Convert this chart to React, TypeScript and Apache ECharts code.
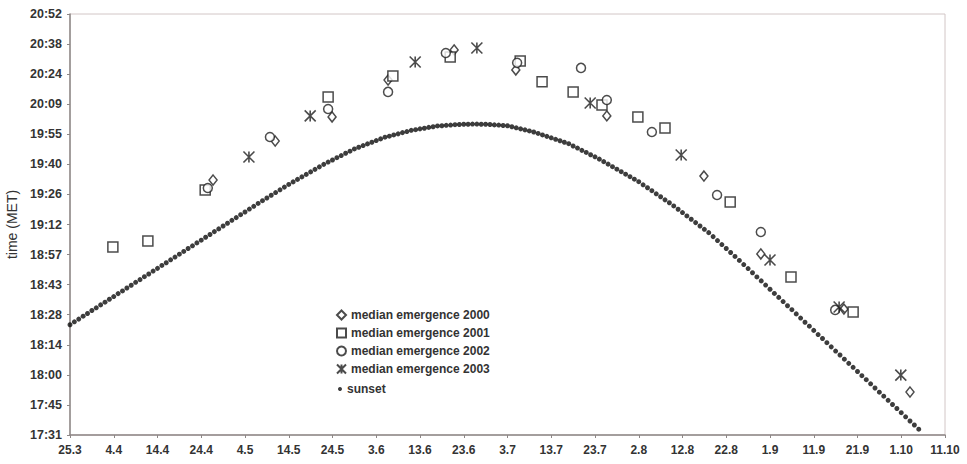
import React, { useEffect, useRef } from "react";
import * as echarts from "echarts";

// x: days after 25 March; y: minutes after midnight (MET)
const xTickLabels = ["25.3", "4.4", "14.4", "24.4", "4.5", "14.5", "24.5", "3.6", "13.6", "23.6", "3.7", "13.7", "23.7", "2.8", "12.8", "22.8", "1.9", "11.9", "21.9", "1.10", "11.10"];
const yTickLabels = ["17:31", "17:45", "18:00", "18:14", "18:28", "18:43", "18:57", "19:12", "19:26", "19:40", "19:55", "20:09", "20:24", "20:38", "20:52"];

const days2000 = [32.7, 46.9, 59.9, 72.7, 87.8, 101.9, 122.7, 144.9, 157.9, 176.9, 192.0];
const mins2000 = [1173.3, 1192.0, 1203.5, 1221.2, 1235.6, 1226.0, 1204.0, 1175.2, 1137.9, 1111.5, 1071.8];

const days2001 = [9.8, 17.8, 30.9, 59.0, 73.8, 86.9, 102.9, 107.9, 115.0, 121.6, 129.8, 136.0, 150.9, 164.8, 179.0];
const mins2001 = [1141.2, 1144.1, 1168.5, 1213.1, 1223.1, 1232.2, 1230.3, 1220.3, 1215.5, 1209.2, 1203.5, 1198.2, 1162.8, 1126.9, 1110.1];

const days2002 = [31.5, 45.7, 59.0, 72.7, 85.9, 102.2, 116.8, 122.7, 133.0, 147.9, 157.9, 174.9];
const mins2002 = [1169.5, 1193.9, 1207.3, 1215.5, 1234.1, 1229.4, 1227.0, 1211.6, 1196.3, 1166.1, 1148.4, 1111.1];

const days2003 = [40.9, 54.9, 78.9, 93.0, 118.9, 139.7, 160.0, 175.8, 189.9];
const mins2003 = [1184.3, 1204.0, 1229.8, 1236.5, 1210.2, 1185.3, 1135.0, 1112.5, 1079.9];

// sunset, one value per day starting 25.3
const sunsetMins = [
  1104.0, 1105.4, 1106.7, 1108.1, 1109.4, 1110.8, 1112.1, 1113.5, 1114.8, 1116.2,
  1117.5, 1118.9, 1120.2, 1121.6, 1122.9, 1124.3, 1125.6, 1127.0, 1128.3, 1129.7,
  1131.0, 1132.4, 1133.7, 1135.1, 1136.4, 1137.8, 1139.1, 1140.5, 1141.8, 1143.2,
  1144.5, 1145.9, 1147.2, 1148.6, 1149.9, 1151.3, 1152.6, 1154.0, 1155.3, 1156.7,
  1158.0, 1159.4, 1160.7, 1162.1, 1163.4, 1164.7, 1166.0, 1167.3, 1168.6, 1169.9,
  1171.2, 1172.4, 1173.6, 1174.8, 1176.0, 1177.2, 1178.4, 1179.6, 1180.8, 1181.9,
  1182.9, 1184.0, 1185.0, 1186.1, 1187.1, 1188.2, 1189.0, 1189.8, 1190.6, 1191.4,
  1192.2, 1193.0, 1193.8, 1194.3, 1194.9, 1195.4, 1196.0, 1196.5, 1197.1, 1197.4,
  1197.8, 1198.1, 1198.5, 1198.8, 1199.2, 1199.3, 1199.5, 1199.6, 1199.8, 1199.9,
  1200.0, 1200.0, 1200.1, 1200.1, 1200.0, 1200.0, 1199.9, 1199.7, 1199.6, 1199.4,
  1199.3, 1198.8, 1198.3, 1197.8, 1197.3, 1196.8, 1196.3, 1195.6, 1194.9, 1194.2,
  1193.5, 1192.8, 1192.1, 1191.4, 1190.7, 1189.6, 1188.6, 1187.5, 1186.5, 1185.4,
  1184.4, 1183.3, 1182.1, 1180.9, 1179.7, 1178.5, 1177.3, 1176.1, 1174.9, 1173.7,
  1172.5, 1171.0, 1169.6, 1168.2, 1166.7, 1165.3, 1163.8, 1162.4, 1160.9, 1159.3,
  1157.7, 1156.1, 1154.5, 1152.9, 1151.3, 1149.7, 1148.1, 1146.2, 1144.3, 1142.4,
  1140.5, 1138.6, 1136.7, 1134.8, 1132.8, 1130.9, 1128.9, 1126.9, 1125.0, 1123.0,
  1121.0, 1119.0, 1117.1, 1115.1, 1113.1, 1111.2, 1109.2, 1107.2, 1105.2, 1103.3,
  1101.3, 1099.3, 1097.4, 1095.4, 1093.4, 1091.4, 1089.5, 1087.5, 1085.5, 1083.6,
  1081.6, 1079.6, 1077.7, 1075.7, 1073.7, 1071.7, 1069.8, 1067.8, 1065.8, 1063.9,
  1061.9, 1059.9, 1057.9, 1056.0, 1054.0,
];

const Y_UNIT = 14.4; // minutes per y-axis tick step (0.01 day)
const pts = (days: number[], mins: number[]) => days.map((d, i) => [d, mins[i] / Y_UNIT]);

const FONT = "Arial, 'Liberation Sans', sans-serif";
const INK = "#1e1e1e";

export default function App() {
  const ref = useRef<HTMLDivElement>(null);
  useEffect(() => {
    if (!ref.current) return;
    const chart = echarts.init(ref.current, undefined, { renderer: "svg" });
    const hollow = { color: "#fff", borderColor: INK, borderWidth: 1.5 };
    chart.setOption({
      animation: false,
      backgroundColor: "#fff",
      textStyle: { fontFamily: FONT },
      grid: {
        left: 70, right: 22, top: 14, bottom: 29,
        containLabel: false, outerBoundsMode: "none",
        show: true, borderColor: "#d2c6c6", borderWidth: 1, backgroundColor: "#fff",
      },
      legend: [
        {
          data: ["median emergence 2000", "median emergence 2001", "median emergence 2002", "median emergence 2003"],
          orient: "vertical",
          left: 336,
          top: 309,
          itemWidth: 9,
          itemHeight: 9,
          itemGap: 6,
          padding: 0,
          textStyle: { fontSize: 12, fontWeight: "bold", color: "#333", fontFamily: FONT },
        },
        {
          data: ["sunset"],
          orient: "vertical",
          left: 338,
          top: 383,
          itemWidth: 4,
          itemHeight: 4,
          padding: 0,
          textStyle: { fontSize: 12, fontWeight: "bold", color: "#333", fontFamily: FONT },
        },
      ],
      xAxis: {
        type: "value",
        min: 0,
        max: 200,
        interval: 10,
        splitLine: { show: false },
        axisLine: { show: true, onZero: false, lineStyle: { color: "#8d8786", width: 1.5 } },
        axisTick: { show: true, length: 3, lineStyle: { color: "#8d8786" } },
        axisLabel: {
          margin: 9,
          fontSize: 12,
          fontWeight: "bold",
          color: "#333",
          fontFamily: FONT,
          formatter: (v: number) => xTickLabels[Math.round(v / 10)] ?? "",
        },
      },
      yAxis: {
        type: "value",
        min: 73,
        max: 87,
        interval: 1,
        name: "time (MET)",
        nameLocation: "middle",
        nameGap: 48,
        nameTextStyle: { fontSize: 14, color: "#333", fontFamily: FONT },
        splitLine: { show: false },
        axisLine: { show: true, onZero: false, lineStyle: { color: "#8d8786", width: 1.5 } },
        axisTick: { show: true, length: 3, lineStyle: { color: "#8d8786" } },
        axisLabel: {
          margin: 8,
          fontSize: 12.5,
          fontWeight: "bold",
          color: "#333",
          fontFamily: FONT,
          formatter: (v: number) => yTickLabels[Math.round(v - 73)] ?? "",
        },
      },
      series: [
        {
          name: "sunset",
          type: "scatter",
          symbol: "circle",
          symbolSize: 5,
          itemStyle: { color: "#0d0d0d" },
          data: sunsetMins.map((m, i) => [i, m / Y_UNIT]),
          z: 2,
        },
        {
          name: "median emergence 2000",
          type: "scatter",
          symbol: "diamond",
          symbolSize: [8, 10],
          itemStyle: hollow,
          data: pts(days2000, mins2000),
          z: 3,
        },
        {
          name: "median emergence 2001",
          type: "scatter",
          symbol: "rect",
          symbolSize: 10,
          itemStyle: hollow,
          data: pts(days2001, mins2001),
          z: 3,
        },
        {
          name: "median emergence 2002",
          type: "scatter",
          symbol: "circle",
          symbolSize: 9,
          itemStyle: hollow,
          data: pts(days2002, mins2002),
          z: 3,
        },
        {
          name: "median emergence 2003",
          type: "scatter",
          symbol: "path://M0,0L10,10M10,0L0,10M5,0L5,10",
          symbolSize: 11,
          itemStyle: { color: "#fff", borderColor: INK, borderWidth: 1.6 },
          data: pts(days2003, mins2003),
          z: 3,
        },
      ],
    });
    return () => chart.dispose();
  }, []);
  return <div ref={ref} style={{ position: "fixed", left: 0, top: 0, width: 967, height: 464, background: "#fff" }} />;
}
